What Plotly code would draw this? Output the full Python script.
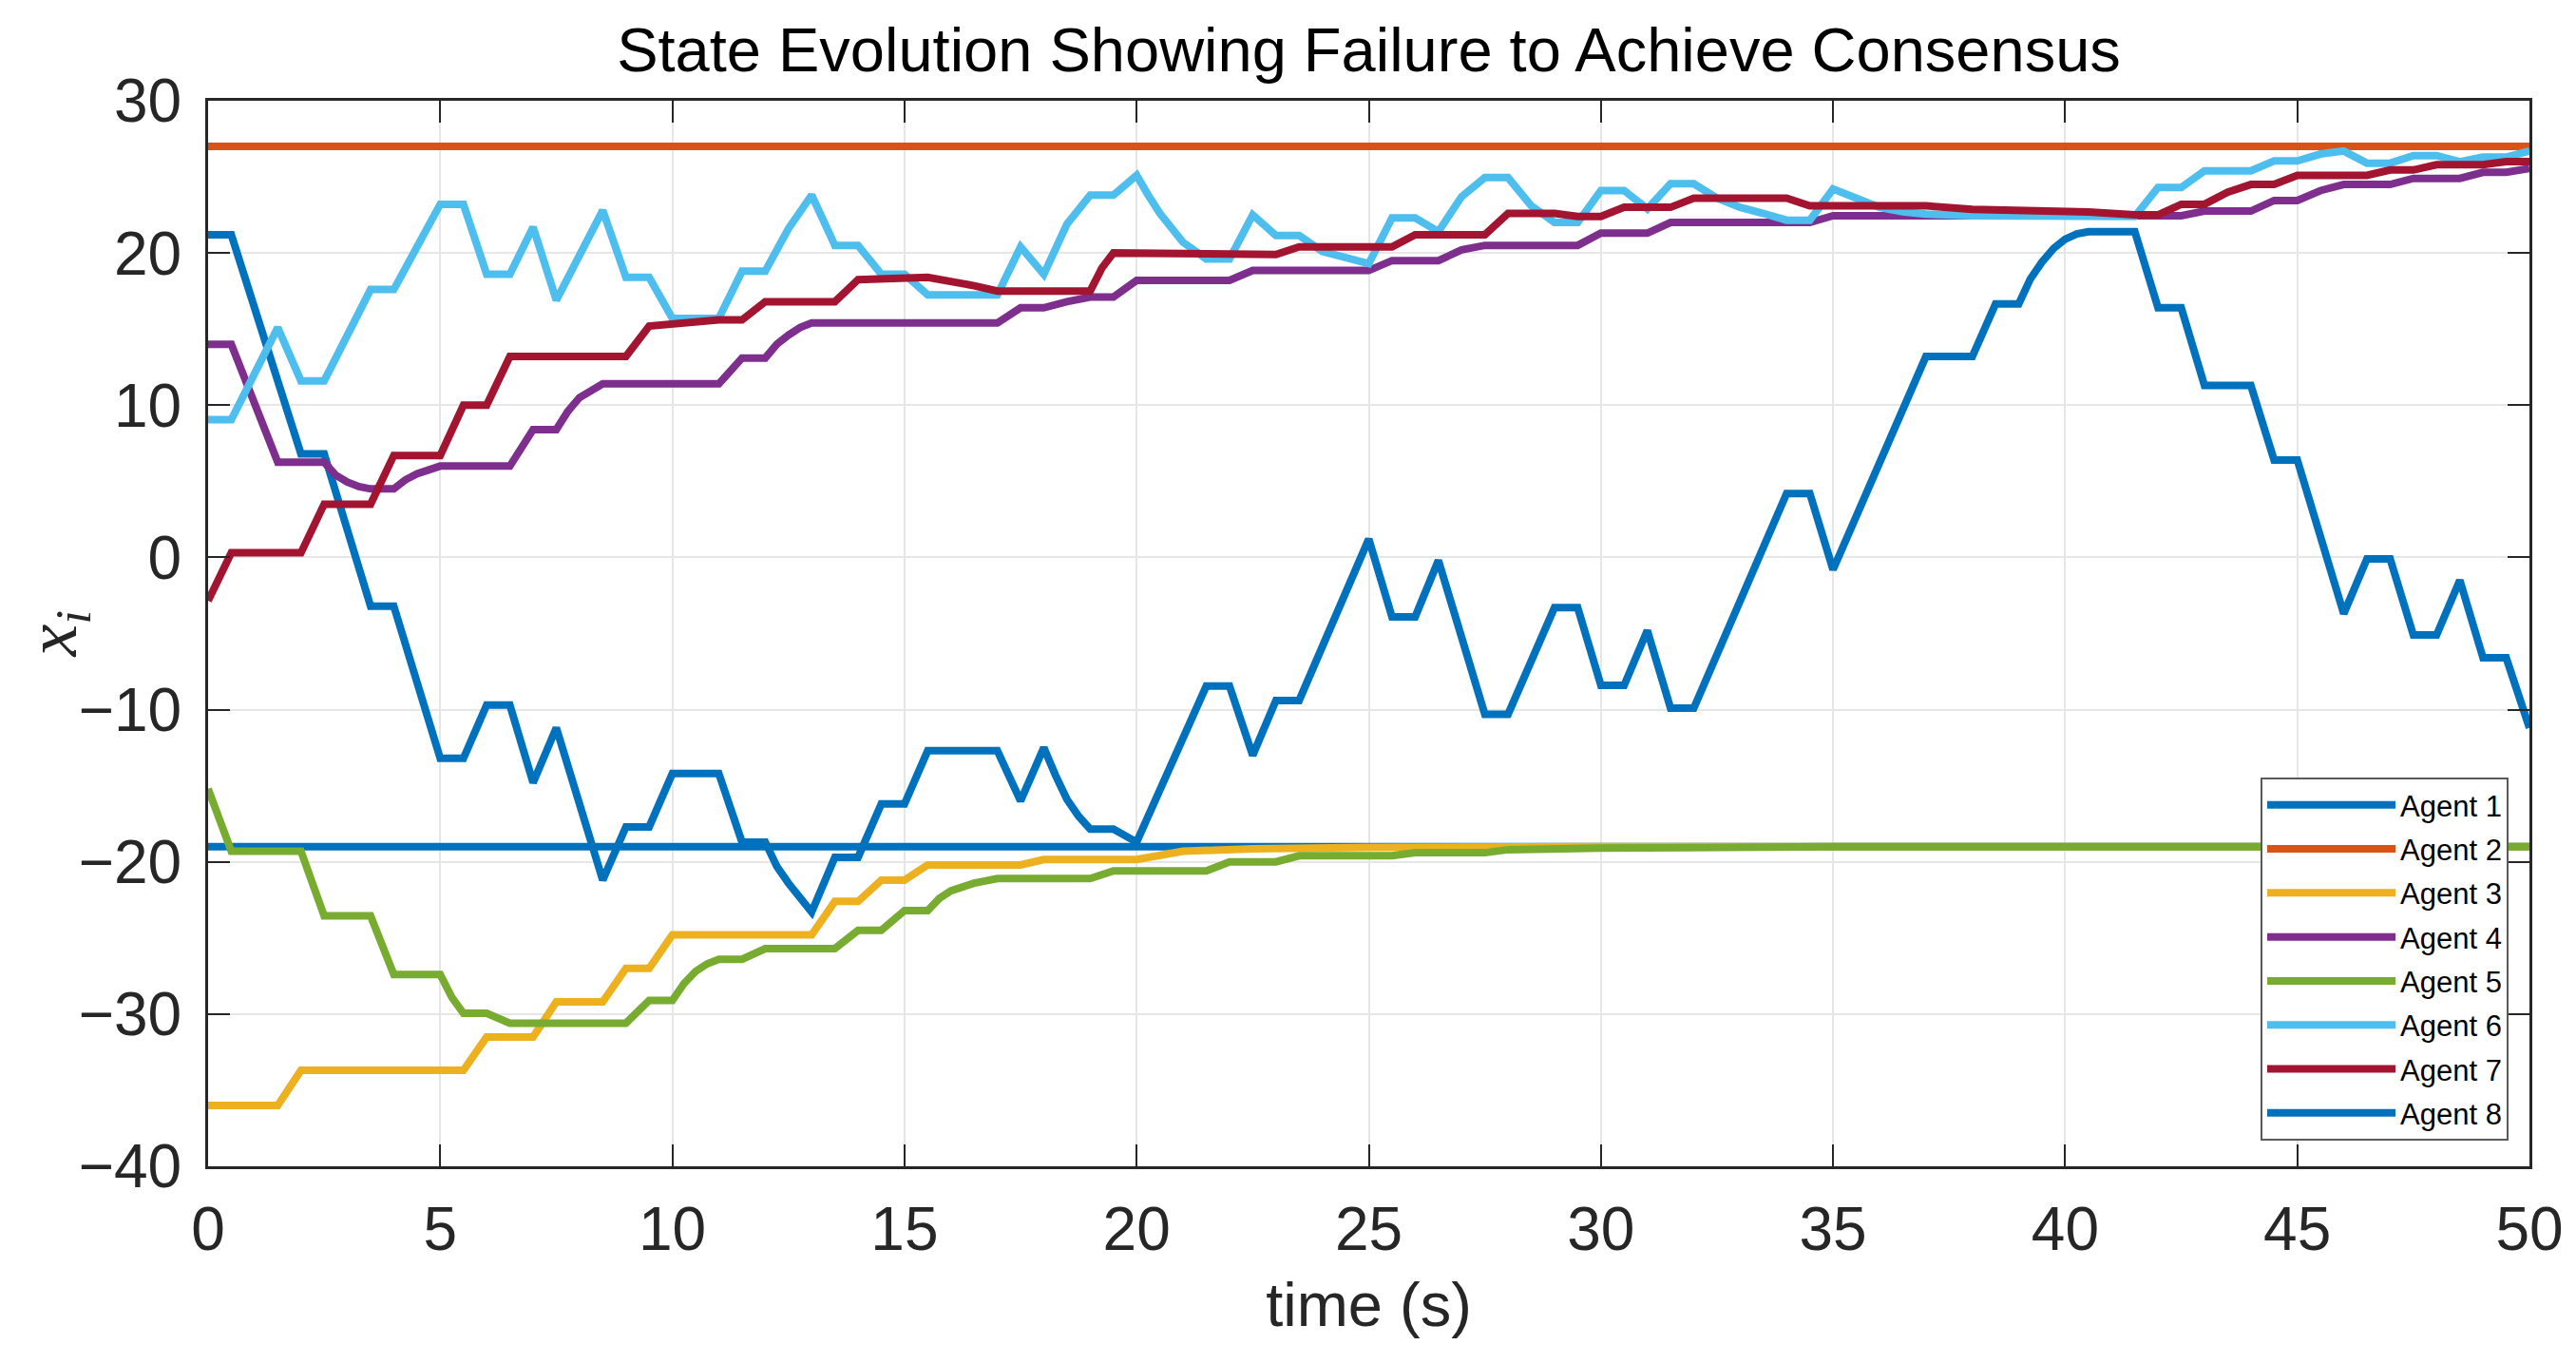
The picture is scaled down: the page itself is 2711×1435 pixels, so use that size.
import plotly.graph_objects as go

# breakpoints (time in s, state)
t1 = [0, 0.5, 2.0, 2.5, 3.5, 4.0, 5.0, 5.5, 6.0, 6.5, 7.0, 7.5, 8.5, 9.0, 9.5, 10.0, 11.0, 11.5, 12.0,
      12.25, 12.5, 12.75, 13.0, 13.5, 14.0, 14.5, 15.0, 15.5, 17.0, 17.5, 18.0, 18.25, 18.5, 18.75, 19.0,
      19.5, 20.0, 21.5, 22.0, 22.5, 23.0, 23.5, 25.0, 25.5, 26.0, 26.5, 27.5, 28.0, 29.0, 29.5, 30.0,
      30.5, 31.0, 31.5, 32.0, 34.0, 34.5, 35.0, 37.0, 38.0, 38.5, 39.0, 39.25, 39.5, 39.75, 40.0, 40.25,
      40.5, 41.5, 42.0, 42.5, 43.0, 44.0, 44.5, 45.0, 46.0, 46.5, 47.0, 47.5, 48.0, 48.5, 49.0, 49.5, 50.0]
x1 = [21.2, 21.2, 6.8, 6.8, -3.2, -3.2, -13.2, -13.2, -9.7, -9.7, -14.8, -11.2, -21.2, -17.7, -17.7, -14.2,
      -14.2, -18.7, -18.7, -20.3, -21.4, -22.4, -23.3, -19.7, -19.7, -16.2, -16.2, -12.7, -12.7, -16.0,
      -12.5, -14.3, -15.9, -17.0, -17.85, -17.85, -18.7, -8.45, -8.45, -13.0, -9.4, -9.4, 1.2, -3.9, -3.9,
      -0.2, -10.3, -10.3, -3.3, -3.3, -8.4, -8.4, -4.8, -9.9, -9.9, 4.2, 4.2, -0.8, 13.2, 13.2, 16.65,
      16.65, 18.3, 19.4, 20.3, 20.9, 21.25, 21.4, 21.4, 16.4, 16.4, 11.3, 11.3, 6.4, 6.4, -3.7, -0.1, -0.1,
      -5.1, -5.1, -1.5, -6.6, -6.6, -11.2]

t2 = [0, 50]
x2 = [27.0, 27.0]

t3 = [0, 1.5, 2.0, 5.5, 6.0, 7.0, 7.5, 8.5, 9.0, 9.5, 10.0, 13.0, 13.5, 14.0, 14.5, 15.0, 15.5, 17.5, 18.0,
      20.0, 21.0, 22.5, 25.0, 30.0, 50.0]
x3 = [-36.0, -36.0, -33.7, -33.7, -31.5, -31.5, -29.2, -29.2, -27.0, -27.0, -24.8, -24.8, -22.6, -22.6,
      -21.2, -21.2, -20.2, -20.2, -19.85, -19.85, -19.3, -19.15, -19.05, -19.0, -19.0]

t4 = [0, 0.5, 1.5, 2.5, 2.75, 3.0, 3.25, 3.5, 4.0, 4.25, 4.5, 4.75, 5.0, 6.5, 7.0, 7.5, 7.75, 8.0, 8.25,
      8.5, 11.0, 11.5, 12.0, 12.25, 12.5, 12.75, 13.0, 17.0, 17.5, 18.0, 18.5, 19.0, 19.5, 20.0, 22.0, 22.5,
      25.0, 25.5, 26.5, 27.0, 27.5, 29.5, 30.0, 31.0, 31.5, 34.5, 35.0, 41.5, 42.0, 42.5, 43.0, 44.0, 44.5,
      45.0, 45.5, 46.0, 47.0, 47.5, 48.5, 49.0, 49.5, 50.0]
x4 = [14.0, 14.0, 6.25, 6.25, 5.4, 4.95, 4.65, 4.5, 4.5, 5.1, 5.5, 5.8, 6.0, 6.0, 8.4, 8.4, 9.6, 10.5, 11.0,
      11.4, 11.4, 13.1, 13.1, 14.0, 14.6, 15.1, 15.4, 15.4, 16.4, 16.4, 16.8, 17.1, 17.1, 18.2, 18.2, 18.85,
      18.85, 19.5, 19.5, 20.2, 20.5, 20.5, 21.3, 21.3, 22.0, 22.0, 22.45, 22.4, 22.45, 22.45, 22.75, 22.75,
      23.45, 23.45, 24.1, 24.5, 24.5, 24.9, 24.9, 25.3, 25.3, 25.55]

t5 = [0, 0.5, 2.0, 2.5, 3.5, 4.0, 5.0, 5.25, 5.5, 6.0, 6.5, 9.0, 9.5, 10.0, 10.25, 10.5, 10.75, 11.0, 11.5,
      12.0, 13.5, 14.0, 14.5, 15.0, 15.5, 15.75, 16.0, 16.5, 17.0, 19.0, 19.5, 21.5, 22.0, 23.0, 23.5, 25.5,
      26.0, 27.5, 28.0, 30.0, 35.0, 50.0]
x5 = [-15.2, -19.3, -19.3, -23.55, -23.55, -27.4, -27.4, -28.9, -29.95, -29.95, -30.6, -30.6, -29.1, -29.1,
      -28.0, -27.2, -26.7, -26.4, -26.4, -25.7, -25.7, -24.5, -24.5, -23.2, -23.2, -22.4, -21.9, -21.4,
      -21.1, -21.1, -20.6, -20.6, -20.0, -20.0, -19.6, -19.6, -19.4, -19.4, -19.2, -19.1, -19.0, -19.0]

t6 = [0, 0.5, 1.5, 2.0, 2.5, 3.5, 4.0, 4.5, 5.0, 5.5, 6.0, 6.5, 7.0, 7.5, 8.5, 9.0, 9.5, 10.0, 11.0, 11.5,
      12.0, 12.5, 13.0, 13.5, 14.0, 14.5, 15.0, 15.5, 17.0, 17.5, 18.0, 18.5, 19.0, 19.5, 20.0, 20.25, 20.5,
      21.0, 21.5, 22.0, 22.5, 23.0, 23.5, 24.0, 24.5, 25.0, 25.5, 26.0, 26.5, 27.0, 27.5, 28.0, 28.5, 29.0,
      29.5, 30.0, 30.5, 31.0, 31.5, 32.0, 32.5, 33.0, 33.5, 34.0, 34.5, 35.0, 35.5, 36.0, 36.5, 37.0, 38.0,
      41.5, 42.0, 42.5, 43.0, 44.0, 44.5, 45.0, 45.5, 46.0, 46.5, 47.0, 47.5, 48.0, 48.5, 49.0, 49.5, 50.0]
x6 = [9.05, 9.05, 15.1, 11.6, 11.6, 17.6, 17.6, 20.5, 23.2, 23.2, 18.6, 18.6, 21.7, 16.9, 22.8, 18.4, 18.4,
      15.7, 15.7, 18.8, 18.8, 21.6, 23.8, 20.5, 20.5, 18.6, 18.6, 17.25, 17.25, 20.4, 18.6, 21.9, 23.8, 23.8,
      25.1, 23.8, 22.6, 20.7, 19.6, 19.6, 22.5, 21.15, 21.15, 20.1, 19.7, 19.3, 22.3, 22.3, 21.4, 23.7,
      24.95, 24.95, 23.1, 22.0, 22.0, 24.1, 24.1, 22.9, 24.55, 24.55, 23.6, 23.0, 22.6, 22.15, 22.15, 24.2,
      23.6, 23.0, 22.7, 22.55, 22.45, 22.4, 24.3, 24.3, 25.4, 25.4, 26.05, 26.05, 26.5, 26.7, 25.9, 25.9,
      26.4, 26.4, 26.0, 26.3, 26.3, 26.7]

t7 = [0, 0.5, 2.0, 2.5, 3.5, 4.0, 5.0, 5.5, 6.0, 6.5, 9.0, 9.5, 11.0, 11.5, 12.0, 13.5, 14.0, 15.5, 16.5,
      17.0, 19.0, 19.25, 19.5, 22.0, 23.0, 23.5, 25.5, 26.0, 27.5, 28.0, 29.0, 29.5, 30.0, 30.5, 31.5, 32.0,
      34.0, 34.5, 37.0, 38.0, 40.5, 41.5, 42.0, 42.5, 43.0, 43.5, 44.0, 44.5, 45.0, 46.5, 47.0, 47.5, 48.0,
      49.0, 49.5, 50.0]
x7 = [-2.85, 0.3, 0.3, 3.5, 3.5, 6.7, 6.7, 10.0, 10.0, 13.2, 13.2, 15.2, 15.6, 15.6, 16.8, 16.8, 18.25, 18.4,
      17.85, 17.5, 17.5, 19.0, 20.0, 19.9, 19.9, 20.4, 20.4, 21.2, 21.2, 22.6, 22.6, 22.4, 22.4, 23.0, 23.0,
      23.6, 23.6, 23.1, 23.1, 22.87, 22.7, 22.5, 22.5, 23.2, 23.2, 24.0, 24.5, 24.5, 25.1, 25.1, 25.45,
      25.45, 25.8, 25.8, 26.0, 26.0]

t8 = [0, 50]
x8 = [-19.0, -19.0]

names = ["Agent 1", "Agent 2", "Agent 3", "Agent 4", "Agent 5", "Agent 6", "Agent 7", "Agent 8"]
colors = ["#0072BD", "#D95319", "#EDB120", "#7E2F8E", "#77AC30", "#4DBEEE", "#A2142F", "#0072BD"]
series = [(t1, x1), (t2, x2), (t3, x3), (t4, x4), (t5, x5), (t6, x6), (t7, x7), (t8, x8)]

fig = go.Figure()
# agent 8 sits underneath the others in the reference, so draw it first
order = [7, 0, 1, 2, 3, 4, 5, 6]
for i in order:
    t, x = series[i]
    fig.add_trace(go.Scatter(x=t, y=x, mode="lines", name=names[i], legendrank=i + 1,
                             legendgroup=names[i],
                             line=dict(color=colors[i], width=8)))

axis_col = "#262626"
grid_col = "#e6e6e6"
font = "Liberation Sans, Arial, Helvetica, sans-serif"

fig.update_layout(
    width=2711, height=1435,
    paper_bgcolor="white", plot_bgcolor="white",
    margin=dict(l=211, r=57, t=98, b=216, autoexpand=False),
    font=dict(family=font, color=axis_col),
    title=dict(text="State Evolution Showing Failure to Achieve Consensus",
               x=0.5, xref="paper", y=1 - 44 / 1435, yref="container", yanchor="middle",
               font=dict(size=65, color="black", family=font)),
    legend=dict(x=0.991, xanchor="right", y=0.024, yanchor="bottom",
                bgcolor="white", bordercolor="#5a5a5a", borderwidth=2,
                font=dict(size=31, color="black", family=font),
                tracegroupgap=3, itemwidth=135),
    showlegend=True,
)

fig.update_xaxes(range=[0, 50], dtick=5, tick0=0, ticks="inside", ticklen=23, tickwidth=2,
                 tickcolor=axis_col, showline=True, linecolor=axis_col, linewidth=3, mirror="ticks",
                 showgrid=True, gridcolor=grid_col, gridwidth=2, zeroline=False,
                 tickfont=dict(size=64, color=axis_col), ticklabelstandoff=8,
                 title=dict(text="time (s)", font=dict(size=65, color=axis_col), standoff=22))
fig.update_yaxes(range=[-40, 30], dtick=10, tick0=0, ticks="inside", ticklen=23, tickwidth=2,
                 tickcolor=axis_col, showline=True, linecolor=axis_col, linewidth=3, mirror="ticks",
                 showgrid=True, gridcolor=grid_col, gridwidth=2, zeroline=False,
                 tickfont=dict(size=64, color=axis_col), ticklabelstandoff=12)

# y label x_i, set in italic serif like the LaTeX label
fig.add_annotation(text="<i>x</i><sub><i>i</i></sub>", xref="paper", yref="paper",
                   x=-160 / 2443, y=0.5, xanchor="center", yanchor="middle", textangle=-90,
                   showarrow=False, font=dict(size=76, color=axis_col, family="Liberation Serif"))

fig.write_html("out.html")
